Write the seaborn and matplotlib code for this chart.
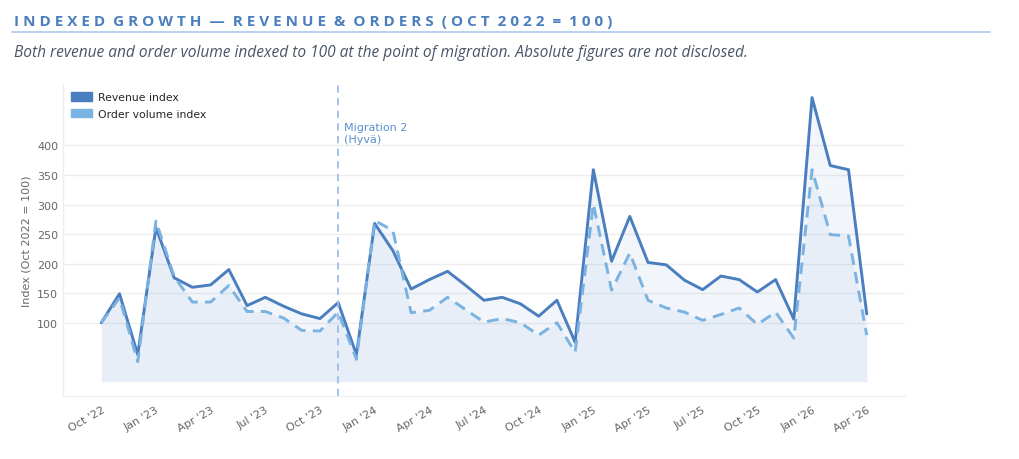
import numpy as np
import pandas as pd
import matplotlib
matplotlib.use("Agg")
import matplotlib.pyplot as plt
from matplotlib.patches import Patch
import seaborn as sns

months = pd.date_range("2022-10-01", "2026-04-01", freq="MS")
revenue = [100, 149, 46, 261, 176, 160, 164, 190, 129, 143, 128, 115, 107,
           134, 46, 268, 222, 157, 173, 187, 163, 138, 143, 132, 111, 138, 67,
           359, 204, 280, 202, 198, 172, 156, 179, 173, 152, 173, 106,
           481, 366, 359, 115]
orders = [100, 142, 34, 272, 178, 135, 135, 163, 119, 119, 108, 87, 86,
          118, 38, 273, 256, 117, 121, 143, 122, 101, 107, 100, 79, 100, 50,
          301, 155, 218, 138, 125, 118, 104, 114, 125, 97, 118, 74,
          359, 249, 247, 79]
tick_labels = ["Oct '22", "Jan '23", "Apr '23", "Jul '23", "Oct '23", "Jan '24",
               "Apr '24", "Jul '24", "Oct '24", "Jan '25", "Apr '25", "Jul '25",
               "Oct '25", "Jan '26", "Apr '26"]
y_ticks = [100, 150, 200, 250, 300, 350, 400]
migration_index = 13
migration_label = "Migration 2\n(Hyvä)"

title = "INDEXED GROWTH — REVENUE & ORDERS (OCT 2022 = 100)"
subtitle = "Both revenue and order volume indexed to 100 at the point of migration. Absolute figures are not disclosed."

C_REV = "#4a7ebf"
C_ORD = "#7ab2e1"
C_FILL = "#5b8fd0"

sns.set_style("white")
plt.rcParams["font.family"] = ["DejaVu Sans"]

df = pd.DataFrame({"idx": np.arange(len(months)), "revenue": revenue, "orders": orders})

fig = plt.figure(figsize=(10.2, 4.6), dpi=100)
ax = fig.add_axes([63/1020, 1-397/460, (905-63)/1020, (397-85)/460])

ax.fill_between(df["idx"], 0, df["revenue"], color=C_FILL, alpha=0.08, lw=0)
ax.fill_between(df["idx"], 0, df["orders"], color=C_FILL, alpha=0.07, lw=0)
sns.lineplot(data=df, x="idx", y="revenue", ax=ax, color=C_REV, lw=2.1)
sns.lineplot(data=df, x="idx", y="orders", ax=ax, color=C_ORD, lw=2.1, linestyle=(0, (4, 2.5)))

ax.axvline(migration_index, color="#9dbde6", lw=1.3, ls=(0, (4, 3)))
ax.text(migration_index + 0.3, 403, migration_label, color="#5b8fd0", fontsize=8,
        va="bottom", ha="left", linespacing=1.25)

ax.set_xlim(-2.1, 44.1)
ax.set_ylim(-24, 504)
ax.set_yticks(y_ticks)
ax.set_xticks(np.arange(0, len(months), 3))
ax.set_xticklabels(tick_labels, rotation=30, ha="right", rotation_mode="anchor")
ax.tick_params(axis="both", colors="#666666", labelsize=8, length=0)
ax.tick_params(axis="x", pad=6)
ax.set_xlabel("")
ax.set_ylabel("Index (Oct 2022 = 100)", color="#666666", fontsize=8)
ax.yaxis.grid(True, color="#eeeeee", lw=1)
ax.xaxis.grid(False)
for s in ["top", "right"]:
    ax.spines[s].set_visible(False)
for s in ["left", "bottom"]:
    ax.spines[s].set_color("#eeeeee")
    ax.spines[s].set_linewidth(1)

handles = [Patch(color=C_REV, label="Revenue index"), Patch(color=C_ORD, label="Order volume index")]
ax.legend(handles=handles, loc="upper left", frameon=False, fontsize=7.8,
          handlelength=1.9, handleheight=0.8, handletextpad=0.6,
          borderaxespad=0.35, labelspacing=0.6)

spaced = "  ".join(" ".join(w) for w in title.split(" "))
fig.text(14/1020, 1-22/460, spaced, color="#4a7ebf", fontsize=11, fontweight="bold",
         family="Open Sans", va="center", ha="left")
fig.add_artist(plt.Line2D([12/1020, 990/1020], [1-33/460, 1-33/460], color="#aacbee", lw=1.2))
fig.text(14/1020, 1-53/460, subtitle, color="#4a5568", fontsize=11.2, style="italic",
         family="Open Sans", va="center", ha="left")

fig.savefig("out.png", dpi=100)
